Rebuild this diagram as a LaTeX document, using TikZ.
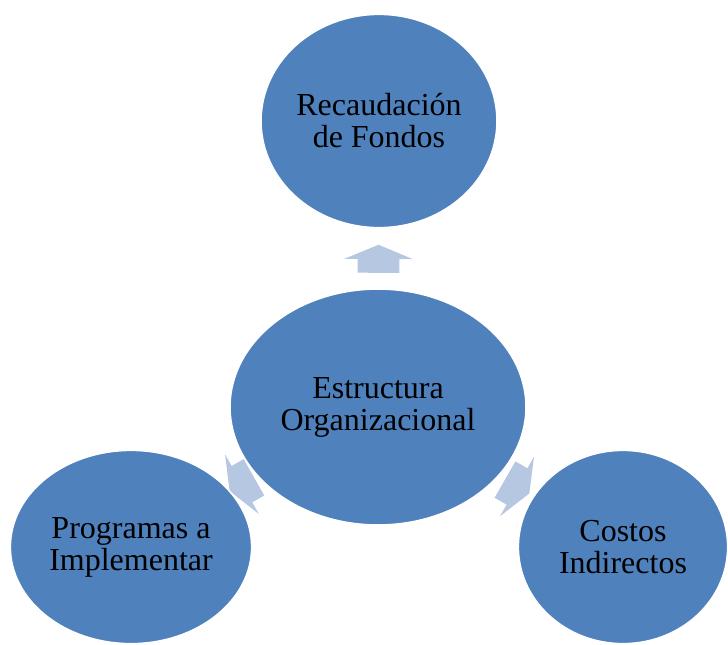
\documentclass[tikz,border=0pt]{standalone}
\usepackage{fontspec}
\setmainfont{Liberation Serif}
\usetikzlibrary{shapes, arrows, positioning, backgrounds}
\definecolor{ovalblue}{RGB}{79,129,189}
\definecolor{arrowblue}{RGB}{182,199,226}

\begin{document}
\begin{tikzpicture}[x=0.75pt, y=-0.75pt]
    % Styles
    \tikzstyle{oval} = [ellipse, draw=white, line width=1.2pt, fill=ovalblue, inner sep=0pt, align=center, font=\fontsize{24}{24}\selectfont]
    \tikzstyle{blockarrow} = [single arrow, draw=none, fill=arrowblue, minimum height=21pt, inner xsep=0pt, inner ysep=15.5pt, single arrow head extend=10pt, single arrow tip angle=135, sloped, allow upside down, pos=0.42]

    \useasboundingbox (0,0) rectangle (728,644);

    % Nodes
    \node [oval, minimum width=222pt, minimum height=177pt] (estructura) at (378,407) {Estructura\\Organizacional};
    \node [oval, minimum width=177pt, minimum height=160pt] (recaudacion) at (379,121) {Recaudación\\de Fondos};
    \node [oval, minimum width=181pt, minimum height=145pt] (programas) at (131,547) {Programas a\\Implementar};
    \node [oval, minimum width=157pt, minimum height=145pt] (costos) at (623,547) {Costos\\Indirectos};

    % Connections
    \begin{scope}[on background layer]
        \path (estructura) -- node [blockarrow] {} (recaudacion);
        \path (estructura) -- node [blockarrow] {} (programas);
        \path (estructura) -- node [blockarrow] {} (costos);
    \end{scope}

\end{tikzpicture}
\end{document}
